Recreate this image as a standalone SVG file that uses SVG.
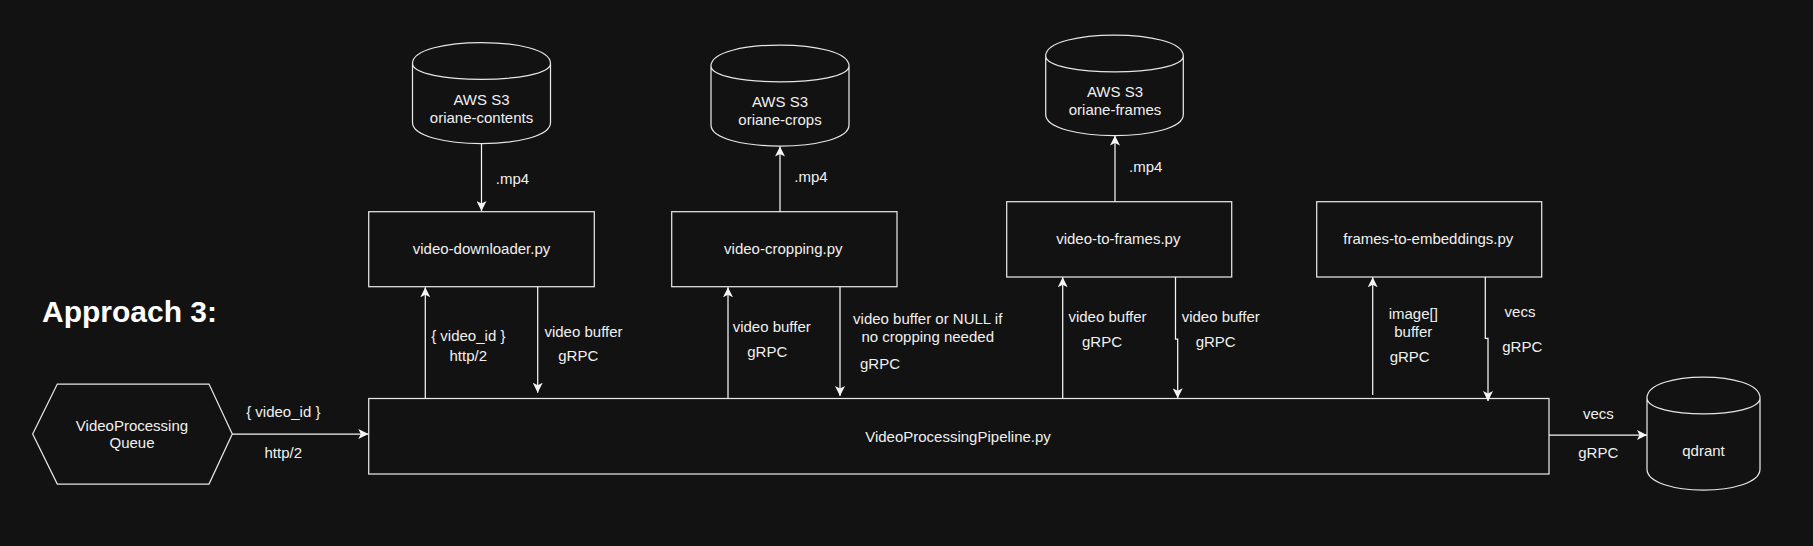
<svg xmlns="http://www.w3.org/2000/svg" width="1813" height="546" viewBox="0 0 1813 546">
<style>
.bg{fill:#121212}
.box{fill:#121212;stroke:#e6e6e6;stroke-width:1.25}
.edge{fill:none;stroke:#f5f5f5;stroke-width:1.25}
.t{font-family:"Liberation Sans",Arial,sans-serif;font-size:15px;fill:#f0f0f0;text-anchor:middle}
.title{font-family:"Liberation Sans",Arial,sans-serif;font-size:30px;font-weight:bold;fill:#ffffff}
</style>
<defs>
<marker id="arr" markerUnits="userSpaceOnUse" viewBox="0 0 10 10" markerWidth="10" markerHeight="10" refX="10" refY="5" orient="auto">
<path d="M0,0 L10,5 L0,10 L2.5,5 Z" fill="#f5f5f5"/>
</marker>
</defs>
<rect class="bg" x="0" y="0" width="1813" height="546"/>
<text class="title" x="42" y="321.7">Approach 3:</text>

<g id="queue">
<polygon class="box" points="32.7,434 57.3,384 209,384 232.3,434 209,484 57.3,484"/>
<text class="t" x="132" y="430.7">VideoProcessing</text>
<text class="t" x="132" y="448.3">Queue</text>
</g>

<g id="pipeline">
<rect class="box" x="368.7" y="398.5" width="1180.3" height="75.5"/>
<text class="t" x="958" y="442">VideoProcessingPipeline.py</text>
</g>

<g id="s3-contents">
<path class="box" d="M412.5,63.5 C412.5,35.5 550.5,35.5 550.5,63.5 L550.5,122.5 C550.5,150.5 412.5,150.5 412.5,122.5 Z M412.5,63.5 C412.5,84.5 550.5,84.5 550.5,63.5"/>
<text class="t" x="481.5" y="105">AWS S3</text>
<text class="t" x="481.5" y="123">oriane-contents</text>
</g>

<g id="downloader">
<rect class="box" x="368.7" y="211.7" width="225.6" height="75"/>
<text class="t" x="481.5" y="254.3">video-downloader.py</text>
</g>

<g id="s3-crops">
<path class="box" d="M711,66 C711,38 849,38 849,66 L849,125 C849,153 711,153 711,125 Z M711,66 C711,87 849,87 849,66"/>
<text class="t" x="780" y="107.3">AWS S3</text>
<text class="t" x="780" y="125">oriane-crops</text>
</g>

<g id="cropping">
<rect class="box" x="671.7" y="211.7" width="225.3" height="75"/>
<text class="t" x="783.3" y="254.3">video-cropping.py</text>
</g>

<g id="s3-frames">
<path class="box" d="M1045.7,56 C1045.7,28 1183.3,28 1183.3,56 L1183.3,114.5 C1183.3,142.5 1045.7,142.5 1045.7,114.5 Z M1045.7,56 C1045.7,77 1183.3,77 1183.3,56"/>
<text class="t" x="1115" y="97.3">AWS S3</text>
<text class="t" x="1115" y="115.3">oriane-frames</text>
</g>

<g id="to-frames">
<rect class="box" x="1006.7" y="201.7" width="225" height="75.3"/>
<text class="t" x="1118.3" y="244">video-to-frames.py</text>
</g>

<g id="to-embeddings">
<rect class="box" x="1316.7" y="201.7" width="225" height="75.3"/>
<text class="t" x="1428.3" y="244">frames-to-embeddings.py</text>
</g>

<g id="qdrant">
<path class="box" d="M1647,398 C1647,370 1760,370 1760,398 L1760,469 C1760,497 1647,497 1647,469 Z M1647,398 C1647,419 1760,419 1760,398"/>
<text class="t" x="1703.5" y="456">qdrant</text>
</g>

<g id="connectors">
<path class="edge" marker-end="url(#arr)" d="M232.3,434 L368.3,434"/>
<path class="edge" marker-end="url(#arr)" d="M481.5,143.5 L481.5,211"/>
<path class="edge" marker-end="url(#arr)" d="M425.3,398.5 L425.3,287.3"/>
<path class="edge" marker-end="url(#arr)" d="M537.7,286.7 L537.7,392.7"/>
<path class="edge" marker-end="url(#arr)" d="M780,211.7 L780,146.5"/>
<path class="edge" marker-end="url(#arr)" d="M728,398.5 L728,287.3"/>
<path class="edge" marker-end="url(#arr)" d="M840,286.7 L840,396"/>
<path class="edge" marker-end="url(#arr)" d="M1115,201.7 L1115,135.5"/>
<path class="edge" marker-end="url(#arr)" d="M1062.7,398.5 L1062.7,277.3"/>
<path class="edge" marker-end="url(#arr)" d="M1175.5,277 L1175.5,339 L1177.7,339 L1177.7,398.3"/>
<path class="edge" marker-end="url(#arr)" d="M1372.7,395 L1372.7,277.3"/>
<path class="edge" marker-end="url(#arr)" d="M1485.3,277 L1485.3,338.3 L1488,338.3 L1488,401"/>
<path class="edge" marker-end="url(#arr)" d="M1549,435 L1647,435"/>

<text class="t" x="283.3" y="417.3">{ video_id }</text>
<text class="t" x="283.3" y="458.3">http/2</text>
<text class="t" x="512.5" y="184.3">.mp4</text>
<text class="t" x="468.3" y="341">{ video_id }</text>
<text class="t" x="468.3" y="361">http/2</text>
<text class="t" x="583.5" y="336.7">video buffer</text>
<text class="t" x="578.3" y="361">gRPC</text>
<text class="t" x="811" y="181.7">.mp4</text>
<text class="t" x="771.7" y="332.3">video buffer</text>
<text class="t" x="767.3" y="357.3">gRPC</text>
<text class="t" x="927.7" y="324.3">video buffer or NULL if</text>
<text class="t" x="927.7" y="342.3">no cropping needed</text>
<text class="t" x="880" y="369.3">gRPC</text>
<text class="t" x="1145.7" y="171.7">.mp4</text>
<text class="t" x="1107.5" y="322">video buffer</text>
<text class="t" x="1102" y="347">gRPC</text>
<text class="t" x="1220.7" y="322.3">video buffer</text>
<text class="t" x="1215.7" y="346.7">gRPC</text>
<text class="t" x="1413.3" y="319.3">image[]</text>
<text class="t" x="1413.3" y="337">buffer</text>
<text class="t" x="1409.7" y="361.7">gRPC</text>
<text class="t" x="1520" y="317.3">vecs</text>
<text class="t" x="1522.3" y="352.3">gRPC</text>
<text class="t" x="1598.3" y="419.3">vecs</text>
<text class="t" x="1598.3" y="458.3">gRPC</text>
</g>
</svg>
